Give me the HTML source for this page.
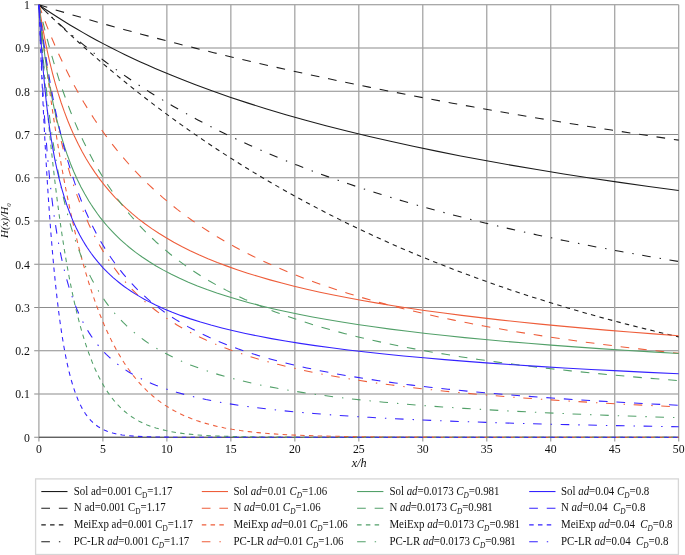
<!DOCTYPE html>
<html><head><meta charset="utf-8"><style>
html,body{margin:0;padding:0;background:#fff;}
body{width:685px;height:555px;overflow:hidden;}
svg{display:block;will-change:transform;}
text{font-family:"Liberation Serif",serif;fill:#111;}
</style></head><body>
<svg width="685" height="555" viewBox="0 0 685 555">
<rect width="685" height="555" fill="#fff"/>

<g stroke="#8c8c8c" stroke-width="1.1" fill="none"><line x1="34.2" y1="437.30" x2="678.70" y2="437.30"/><line x1="34.2" y1="394.05" x2="678.70" y2="394.05"/><line x1="34.2" y1="350.80" x2="678.70" y2="350.80"/><line x1="34.2" y1="307.55" x2="678.70" y2="307.55"/><line x1="34.2" y1="264.30" x2="678.70" y2="264.30"/><line x1="34.2" y1="221.05" x2="678.70" y2="221.05"/><line x1="34.2" y1="177.80" x2="678.70" y2="177.80"/><line x1="34.2" y1="134.55" x2="678.70" y2="134.55"/><line x1="34.2" y1="91.30" x2="678.70" y2="91.30"/><line x1="34.2" y1="48.05" x2="678.70" y2="48.05"/><line x1="34.2" y1="4.80" x2="678.70" y2="4.80"/></g>
<g stroke="#a2a2a2" stroke-width="1.25" fill="none"><line x1="38.90" y1="4.80" x2="38.90" y2="441.6"/><line x1="102.88" y1="4.80" x2="102.88" y2="441.6"/><line x1="166.86" y1="4.80" x2="166.86" y2="441.6"/><line x1="230.84" y1="4.80" x2="230.84" y2="441.6"/><line x1="294.82" y1="4.80" x2="294.82" y2="441.6"/><line x1="358.80" y1="4.80" x2="358.80" y2="441.6"/><line x1="422.78" y1="4.80" x2="422.78" y2="441.6"/><line x1="486.76" y1="4.80" x2="486.76" y2="441.6"/><line x1="550.74" y1="4.80" x2="550.74" y2="441.6"/><line x1="614.72" y1="4.80" x2="614.72" y2="441.6"/><line x1="678.70" y1="4.80" x2="678.70" y2="441.6"/></g>
<line x1="38.90" y1="437.30" x2="678.70" y2="437.30" stroke="#4a4a4a" stroke-width="1.1"/>
<g font-size="11.8"><text transform="translate(29.9,441.60) scale(1,1.08)" text-anchor="end">0</text><text transform="translate(29.9,398.35) scale(1,1.08)" text-anchor="end">0.1</text><text transform="translate(29.9,355.10) scale(1,1.08)" text-anchor="end">0.2</text><text transform="translate(29.9,311.85) scale(1,1.08)" text-anchor="end">0.3</text><text transform="translate(29.9,268.60) scale(1,1.08)" text-anchor="end">0.4</text><text transform="translate(29.9,225.35) scale(1,1.08)" text-anchor="end">0.5</text><text transform="translate(29.9,182.10) scale(1,1.08)" text-anchor="end">0.6</text><text transform="translate(29.9,138.85) scale(1,1.08)" text-anchor="end">0.7</text><text transform="translate(29.9,95.60) scale(1,1.08)" text-anchor="end">0.8</text><text transform="translate(29.9,52.35) scale(1,1.08)" text-anchor="end">0.9</text><text transform="translate(29.9,9.10) scale(1,1.08)" text-anchor="end">1</text><text transform="translate(38.90,453.3) scale(1,1.08)" text-anchor="middle">0</text><text transform="translate(102.88,453.3) scale(1,1.08)" text-anchor="middle">5</text><text transform="translate(166.86,453.3) scale(1,1.08)" text-anchor="middle">10</text><text transform="translate(230.84,453.3) scale(1,1.08)" text-anchor="middle">15</text><text transform="translate(294.82,453.3) scale(1,1.08)" text-anchor="middle">20</text><text transform="translate(358.80,453.3) scale(1,1.08)" text-anchor="middle">25</text><text transform="translate(422.78,453.3) scale(1,1.08)" text-anchor="middle">30</text><text transform="translate(486.76,453.3) scale(1,1.08)" text-anchor="middle">35</text><text transform="translate(550.74,453.3) scale(1,1.08)" text-anchor="middle">40</text><text transform="translate(614.72,453.3) scale(1,1.08)" text-anchor="middle">45</text><text transform="translate(678.70,453.3) scale(1,1.08)" text-anchor="middle">50</text></g>
<text x="359.1" y="466.5" text-anchor="middle" font-size="12.2" font-style="italic">x/h</text>
<text transform="translate(7.9,220.6) rotate(-90)" text-anchor="middle" font-size="11" font-style="italic">H(x)/H<tspan font-size="6.8" dy="3.4">0</tspan></text>
<defs><clipPath id="pc"><rect x="37.90" y="0" width="641.80" height="439.30"/></clipPath></defs><g fill="none" stroke-width="1.08" clip-path="url(#pc)" stroke-linejoin="round"><path d="M38.90,4.80 L44.91,8.93 L51.03,13.01 L57.25,17.04 L63.56,21.02 L69.97,24.95 L76.47,28.82 L83.07,32.64 L89.83,36.44 L96.64,40.17 L103.60,43.88 L110.61,47.51 L117.77,51.11 L125.04,54.67 L132.41,58.19 L139.89,61.65 L147.46,65.07 L155.19,68.46 L163.02,71.80 L170.96,75.10 L179.02,78.36 L187.21,81.59 L195.53,84.77 L212.55,91.04 L230.09,97.16 L248.13,103.13 L266.69,108.96 L285.89,114.68 L305.60,120.25 L325.95,125.71 L346.82,131.03 L368.32,136.23 L390.46,141.33 L413.12,146.28 L436.54,151.15 L460.60,155.91 L485.30,160.56 L510.77,165.12 L536.88,169.56 L563.76,173.92 L591.41,178.19 L619.70,182.36 L648.75,186.43 L678.70,190.43" stroke="#1c1c1c"/><path d="M38.90,4.80 L55.46,9.84 L72.22,14.82 L89.21,19.76 L106.36,24.62 L123.71,29.43 L141.32,34.19 L159.08,38.89 L177.10,43.54 L195.27,48.13 L213.71,52.67 L232.39,57.17 L251.21,61.59 L270.28,65.97 L289.60,70.30 L309.19,74.59 L328.90,78.81 L348.86,82.99 L369.09,87.12 L389.57,91.20 L410.30,95.24 L431.29,99.24 L452.41,103.17 L473.91,107.07 L495.54,110.91 L517.43,114.70 L539.70,118.47 L562.23,122.20 L585.01,125.88 L608.05,129.51 L631.34,133.10 L654.89,136.65 L678.70,140.15" stroke="#1c1c1c" stroke-dasharray="8.7 8.86"/><path d="M38.90,4.80 L46.85,12.57 L54.84,20.25 L62.89,27.84 L70.99,35.34 L79.13,42.74 L87.32,50.04 L95.56,57.26 L103.90,64.42 L112.25,71.46 L120.64,78.40 L129.09,85.25 L137.63,92.05 L146.18,98.72 L154.83,105.33 L163.48,111.82 L172.24,118.26 L181.07,124.63 L189.90,130.86 L198.86,137.07 L207.82,143.14 L216.90,149.18 L225.99,155.09 L235.08,160.88 L244.30,166.64 L253.64,172.35 L262.98,177.94 L272.45,183.48 L281.92,188.91 L291.52,194.29 L301.12,199.56 L310.85,204.77 L320.58,209.88 L330.43,214.94 L340.29,219.88 L350.27,224.78 L360.38,229.63 L370.50,234.36 L380.73,239.05 L390.97,243.63 L401.34,248.16 L411.84,252.63 L422.33,257.00 L432.96,261.32 L443.71,265.59 L454.59,269.80 L465.47,273.90 L476.47,277.96 L487.48,281.91 L498.62,285.81 L509.88,289.65 L521.27,293.44 L532.79,297.17 L544.31,300.81 L555.96,304.39 L567.73,307.91 L579.63,311.38 L591.67,314.79 L603.70,318.11 L615.98,321.40 L628.27,324.61 L640.69,327.76 L653.23,330.85 L665.90,333.88 L678.70,336.86" stroke="#1c1c1c" stroke-dasharray="4.5 4.27"/><path d="M38.90,4.80 L45.11,10.84 L51.40,16.80 L57.77,22.66 L64.25,28.45 L70.79,34.14 L77.44,39.76 L84.20,45.32 L91.06,50.80 L98.02,56.21 L105.03,61.51 L112.20,66.77 L119.41,71.93 L126.73,77.01 L134.20,82.06 L141.78,87.03 L149.46,91.93 L157.24,96.76 L165.12,101.52 L173.13,106.22 L181.20,110.81 L189.51,115.43 L197.83,119.91 L206.28,124.34 L214.86,128.71 L223.56,133.02 L232.39,137.27 L241.35,141.47 L250.31,145.55 L259.53,149.63 L268.87,153.65 L278.34,157.62 L287.94,161.52 L297.67,165.37 L307.52,169.16 L317.51,172.90 L327.75,176.62 L337.99,180.24 L348.48,183.85 L358.98,187.36 L369.73,190.85 L380.61,194.29 L391.74,197.71 L402.88,201.04 L414.27,204.34 L425.79,207.60 L437.44,210.79 L449.34,213.97 L461.37,217.09 L473.53,220.16 L485.94,223.21 L498.49,226.20 L511.16,229.13 L537.14,234.91 L563.89,240.53 L591.41,246.00 L619.70,251.31 L648.75,256.46 L678.70,261.49" stroke="#1c1c1c" stroke-dasharray="8.6 9.0 1.4 8.64"/><path d="M38.90,4.80 L40.92,17.49 L43.05,29.66 L45.27,41.33 L47.61,52.56 L50.07,63.36 L52.66,73.77 L55.37,83.80 L58.21,93.44 L61.19,102.73 L64.31,111.68 L67.56,120.25 L70.99,128.58 L74.58,136.60 L78.31,144.31 L82.20,151.72 L86.30,158.93 L90.60,165.92 L95.05,172.61 L99.71,179.09 L104.57,185.35 L109.64,191.40 L114.96,197.28 L120.49,202.95 L126.22,208.41 L132.21,213.70 L138.45,218.83 L144.95,223.80 L151.76,228.64 L158.82,233.31 L166.14,237.82 L173.77,242.20 L181.71,246.44 L190.15,250.66 L198.86,254.71 L207.95,258.65 L217.29,262.44 L227.02,266.12 L237.13,269.70 L247.62,273.17 L258.63,276.58 L270.02,279.88 L281.80,283.08 L294.08,286.20 L306.76,289.23 L319.94,292.17 L333.51,295.02 L347.71,297.82 L362.30,300.52 L377.41,303.15 L393.15,305.73 L409.40,308.24 L426.30,310.69 L443.71,313.07 L461.75,315.39 L480.44,317.66 L499.64,319.85 L519.61,322.01 L540.21,324.11 L561.46,326.16 L583.47,328.16 L606.13,330.11 L629.55,332.02 L653.74,333.88 L678.70,335.70" stroke="#ee5d3a"/><path d="M38.90,4.80 L42.89,15.72 L47.00,26.39 L51.21,36.78 L55.53,46.92 L59.96,56.79 L64.49,66.37 L69.15,75.74 L73.96,84.93 L78.87,93.85 L83.89,102.50 L89.06,110.97 L94.38,119.26 L99.81,127.28 L105.39,135.12 L111.12,142.77 L116.96,150.17 L123.00,157.45 L129.19,164.54 L135.54,171.44 L142.04,178.16 L148.69,184.69 L155.55,191.09 L162.56,197.30 L169.80,203.40 L177.23,209.34 L184.78,215.08 L192.59,220.71 L200.52,226.15 L208.71,231.49 L217.16,236.72 L225.74,241.77 L234.57,246.70 L243.66,251.53 L253.00,256.24 L262.60,260.84 L272.33,265.27 L282.31,269.59 L292.68,273.85 L303.17,277.95 L314.05,281.99 L325.19,285.92 L336.58,289.73 L348.35,293.48 L360.38,297.12 L372.67,300.65 L385.34,304.11 L398.40,307.49 L411.71,310.77 L425.40,313.98 L439.35,317.08 L453.82,320.13 L468.54,323.09 L483.64,325.97 L499.26,328.80 L515.13,331.53 L531.51,334.21 L548.28,336.81 L565.56,339.36 L583.22,341.84 L601.39,344.26 L619.95,346.61 L639.02,348.90 L658.61,351.14 L678.70,353.32" stroke="#ee5d3a" stroke-dasharray="8.7 8.86"/><path d="M38.90,4.80 L41.56,27.91 L44.26,50.09 L47.03,71.55 L49.84,92.19 L52.71,112.01 L55.64,131.09 L58.62,149.36 L61.66,166.89 L64.80,183.83 L67.97,199.89 L71.20,215.17 L74.52,229.91 L77.95,244.08 L81.43,257.46 L85.02,270.28 L88.65,282.34 L92.39,293.84 L96.17,304.62 L100.12,314.98 L104.16,324.77 L106.21,329.43 L108.31,334.00 L110.40,338.38 L112.55,342.67 L114.75,346.87 L116.96,350.88 L119.21,354.81 L121.51,358.64 L123.81,362.29 L126.17,365.84 L128.57,369.30 L131.03,372.66 L133.49,375.86 L136.00,378.96 L138.56,381.96 L141.17,384.86 L143.83,387.66 L146.54,390.36 L149.30,392.96 L152.12,395.47 L154.99,397.87 L157.90,400.17 L160.87,402.38 L163.94,404.52 L169.04,407.79 L174.28,410.82 L179.66,413.60 L185.29,416.20 L191.18,418.61 L197.32,420.84 L203.72,422.87 L210.38,424.72 L217.29,426.40 L224.58,427.92 L232.26,429.29 L240.46,430.54 L249.03,431.64 L258.25,432.62 L267.97,433.47 L278.47,434.21 L287.94,434.76 L298.18,435.25 L309.19,435.66 L320.96,436.02 L347.84,436.56 L380.86,436.93 L418.36,437.13 L468.92,437.24 L678.70,437.30" stroke="#ee5d3a" stroke-dasharray="4.5 4.27"/><path d="M38.90,4.80 L40.96,22.43 L43.10,39.27 L45.32,55.41 L47.65,70.95 L50.07,85.81 L52.60,100.13 L55.24,113.85 L57.98,126.96 L60.85,139.59 L63.83,151.68 L66.95,163.34 L70.17,174.42 L73.55,185.10 L77.08,195.38 L80.72,205.12 L84.56,214.59 L88.55,223.65 L92.69,232.31 L94.84,236.53 L97.05,240.67 L99.30,244.74 L101.55,248.64 L103.90,252.56 L106.26,256.31 L108.66,260.00 L111.12,263.61 L113.63,267.14 L116.24,270.67 L118.85,274.06 L121.56,277.44 L124.27,280.68 L127.09,283.90 L129.96,287.05 L132.87,290.13 L135.84,293.14 L138.91,296.12 L142.04,299.03 L145.21,301.86 L148.43,304.62 L151.76,307.36 L155.14,310.03 L158.57,312.62 L162.10,315.19 L165.68,317.68 L169.42,320.18 L173.13,322.56 L176.97,324.92 L180.81,327.19 L184.78,329.44 L188.87,331.66 L193.10,333.86 L197.32,335.98 L206.03,340.07 L215.11,344.00 L224.71,347.82 L234.57,351.43 L244.94,354.93 L255.69,358.27 L266.95,361.49 L278.73,364.59 L290.88,367.53 L303.56,370.35 L316.87,373.08 L330.69,375.69 L345.02,378.18 L360.00,380.58 L375.61,382.88 L391.87,385.08 L408.89,387.20 L426.68,389.25 L445.11,391.20 L464.31,393.06 L484.41,394.86 L505.40,396.59 L527.16,398.24 L549.81,399.82 L573.49,401.35 L598.19,402.81 L623.92,404.21 L650.80,405.56 L678.70,406.84" stroke="#ee5d3a" stroke-dasharray="8.6 9.0 1.4 8.64"/><path d="M38.90,4.80 L40.42,19.78 L42.05,34.15 L43.76,47.79 L45.58,60.82 L47.50,73.23 L49.53,85.12 L51.68,96.47 L53.96,107.36 L56.37,117.78 L58.90,127.74 L61.57,137.28 L64.40,146.44 L67.41,155.30 L70.53,163.68 L73.81,171.69 L77.29,179.45 L80.97,186.95 L84.81,194.09 L88.86,200.96 L90.95,204.30 L93.16,207.65 L97.61,213.99 L99.91,217.06 L102.32,220.13 L104.72,223.07 L107.23,226.01 L109.79,228.88 L112.40,231.68 L115.06,234.42 L117.83,237.15 L120.64,239.81 L123.51,242.41 L126.42,244.95 L129.44,247.47 L135.64,252.33 L142.14,257.03 L148.95,261.56 L156.06,265.93 L163.48,270.14 L171.34,274.26 L179.66,278.28 L188.36,282.16 L197.45,285.91 L206.92,289.52 L216.78,292.99 L227.02,296.33 L237.77,299.58 L249.03,302.74 L260.68,305.77 L272.84,308.70 L285.51,311.54 L298.69,314.28 L312.51,316.96 L326.85,319.54 L341.83,322.05 L357.44,324.49 L373.57,326.83 L390.33,329.11 L407.87,331.33 L426.04,333.47 L444.99,335.57 L464.70,337.60 L485.05,339.56 L506.17,341.47 L528.18,343.33 L551.09,345.14 L574.77,346.90 L599.34,348.61 L624.82,350.28 L651.31,351.91 L678.70,353.49" stroke="#52a069"/><path d="M38.90,4.80 L42.01,18.30 L45.22,31.39 L48.54,44.06 L51.96,56.37 L55.50,68.27 L59.14,79.79 L62.91,90.96 L66.80,101.79 L70.79,112.22 L74.93,122.39 L79.23,132.28 L83.63,141.79 L88.19,151.02 L92.90,159.98 L97.76,168.66 L102.78,177.06 L107.95,185.19 L113.27,193.04 L118.80,200.70 L124.48,208.08 L130.37,215.26 L136.41,222.17 L142.70,228.93 L149.15,235.43 L155.80,241.73 L162.66,247.82 L169.80,253.77 L177.10,259.47 L184.78,265.10 L192.59,270.48 L200.65,275.69 L208.97,280.73 L217.54,285.61 L226.50,290.39 L235.59,294.95 L245.06,299.40 L254.79,303.70 L264.90,307.89 L275.27,311.92 L286.02,315.84 L297.16,319.65 L308.55,323.31 L320.45,326.90 L332.61,330.34 L345.15,333.67 L358.21,336.93 L371.65,340.07 L385.47,343.10 L399.81,346.05 L414.52,348.90 L429.76,351.66 L445.50,354.34 L461.75,356.94 L478.52,359.45 L495.80,361.88 L513.59,364.23 L532.02,366.51 L550.96,368.72 L570.67,370.87 L590.90,372.94 L611.76,374.95 L633.39,376.90 L655.66,378.78 L678.70,380.62" stroke="#52a069" stroke-dasharray="8.7 8.86"/><path d="M38.90,4.80 L40.76,30.35 L42.65,54.88 L44.58,78.38 L46.55,100.86 L48.57,122.46 L50.63,143.05 L52.75,162.75 L54.91,181.56 L57.12,199.48 L59.39,216.52 L61.72,232.77 L64.10,248.14 L66.54,262.72 L69.05,276.52 L71.66,289.72 L74.32,302.06 L77.03,313.58 L79.85,324.50 L82.71,334.63 L85.68,344.16 L88.75,353.09 L91.93,361.42 L93.56,365.40 L95.20,369.16 L96.89,372.83 L98.63,376.41 L100.37,379.79 L102.16,383.08 L104.01,386.26 L105.85,389.25 L107.74,392.15 L109.69,394.94 L111.68,397.63 L113.68,400.14 L115.78,402.62 L117.88,404.93 L120.03,407.13 L122.23,409.23 L124.48,411.23 L126.83,413.17 L129.19,414.97 L131.65,416.70 L135.28,419.01 L139.07,421.15 L143.01,423.11 L147.10,424.90 L151.40,426.53 L155.91,428.01 L160.67,429.35 L165.68,430.56 L170.96,431.63 L176.46,432.57 L182.35,433.40 L188.75,434.14 L195.53,434.77 L202.83,435.31 L210.89,435.77 L219.59,436.15 L234.44,436.59 L252.10,436.90 L273.86,437.11 L302.28,437.22 L378.81,437.29 L678.70,437.30" stroke="#52a069" stroke-dasharray="4.5 4.27"/><path d="M38.90,4.80 L40.41,25.22 L41.98,44.55 L43.65,63.11 L45.39,80.73 L47.22,97.55 L49.14,113.57 L51.16,128.89 L53.27,143.41 L55.48,157.24 L57.81,170.45 L60.26,183.03 L62.83,195.06 L65.52,206.46 L68.33,217.31 L71.30,227.70 L74.42,237.62 L77.70,247.06 L81.13,256.03 L84.71,264.55 L86.60,268.73 L88.50,272.72 L90.44,276.62 L92.44,280.44 L94.49,284.17 L96.58,287.82 L98.73,291.38 L100.94,294.85 L103.19,298.24 L105.54,301.61 L107.90,304.82 L110.35,308.01 L112.81,311.06 L115.37,314.08 L117.98,317.01 L120.64,319.87 L123.40,322.69 L126.22,325.43 L129.09,328.09 L132.05,330.71 L135.07,333.25 L138.20,335.76 L141.37,338.18 L144.59,340.53 L147.92,342.83 L151.35,345.10 L154.83,347.29 L158.41,349.44 L162.10,351.55 L165.84,353.59 L169.68,355.58 L173.64,357.54 L177.74,359.47 L181.84,361.31 L190.41,364.89 L199.37,368.29 L208.84,371.55 L218.70,374.63 L229.06,377.58 L240.07,380.41 L251.46,383.08 L263.49,385.64 L276.17,388.08 L289.35,390.39 L303.30,392.61 L317.89,394.72 L333.25,396.73 L349.38,398.65 L366.27,400.48 L383.93,402.21 L402.49,403.86 L421.95,405.43 L442.43,406.94 L463.93,408.37 L486.46,409.73 L510.13,411.04 L534.96,412.27 L560.95,413.45 L588.34,414.58 L617.01,415.65 L647.09,416.67 L678.70,417.64" stroke="#52a069" stroke-dasharray="8.6 9.0 1.4 8.64"/><path d="M38.90,4.80 L39.91,23.28 L40.99,40.51 L42.15,56.91 L43.39,72.31 L44.72,86.88 L46.16,100.74 L47.68,113.76 L49.32,126.19 L51.07,137.99 L52.94,149.16 L54.93,159.78 L57.06,169.86 L59.32,179.45 L61.73,188.55 L64.29,197.22 L67.00,205.45 L69.92,213.39 L72.99,220.89 L76.26,228.08 L78.00,231.61 L79.74,234.96 L81.54,238.23 L83.43,241.52 L85.32,244.64 L87.32,247.76 L89.37,250.80 L91.47,253.76 L93.62,256.65 L95.82,259.45 L98.07,262.19 L100.42,264.91 L102.83,267.55 L105.29,270.12 L107.84,272.67 L110.46,275.15 L113.12,277.55 L115.88,279.93 L118.70,282.24 L121.56,284.48 L124.53,286.70 L127.60,288.88 L130.72,291.00 L133.95,293.09 L137.28,295.15 L140.65,297.14 L144.24,299.16 L147.92,301.14 L151.71,303.08 L155.60,304.98 L163.69,308.67 L172.24,312.23 L181.20,315.63 L190.54,318.87 L200.52,322.03 L210.89,325.04 L221.90,327.97 L233.42,330.78 L245.45,333.47 L258.12,336.08 L271.43,338.60 L285.38,341.03 L299.97,343.37 L315.20,345.63 L331.33,347.83 L348.10,349.95 L365.76,352.02 L384.19,354.01 L403.52,355.95 L423.61,357.82 L444.60,359.63 L466.49,361.39 L489.40,363.10 L513.21,364.75 L538.04,366.35 L564.02,367.92 L591.03,369.44 L619.06,370.91 L648.24,372.35 L678.70,373.74" stroke="#3422ff"/><path d="M38.90,4.80 L41.02,22.03 L43.24,38.59 L45.54,54.47 L47.95,69.76 L50.44,84.38 L53.05,98.48 L55.77,111.99 L58.58,124.91 L61.52,137.37 L64.59,149.35 L67.77,160.77 L71.09,171.80 L74.58,182.44 L78.16,192.53 L81.89,202.25 L85.84,211.69 L89.93,220.73 L94.18,229.37 L98.58,237.62 L100.88,241.69 L103.19,245.59 L105.59,249.50 L108.00,253.26 L110.46,256.94 L112.96,260.55 L115.52,264.09 L118.13,267.56 L120.79,270.95 L123.56,274.34 L126.32,277.59 L129.19,280.82 L132.11,283.99 L135.07,287.07 L138.09,290.09 L141.22,293.09 L144.34,295.96 L147.56,298.81 L150.84,301.59 L154.22,304.35 L157.65,307.03 L161.13,309.64 L164.66,312.19 L168.27,314.69 L171.98,317.16 L175.82,319.61 L179.66,321.97 L183.63,324.30 L187.72,326.62 L191.82,328.84 L200.27,333.15 L209.10,337.30 L218.31,341.30 L227.78,345.09 L237.77,348.77 L248.13,352.29 L258.89,355.66 L270.15,358.92 L281.92,362.06 L294.08,365.04 L306.76,367.91 L320.07,370.69 L333.89,373.35 L348.22,375.89 L363.20,378.34 L378.81,380.70 L395.07,382.96 L411.96,385.12 L429.63,387.21 L447.93,389.20 L467.00,391.11 L486.84,392.95 L507.57,394.72 L529.08,396.41 L551.60,398.04 L575.03,399.61 L599.47,401.11 L624.82,402.55 L651.18,403.93 L678.70,405.26" stroke="#3422ff" stroke-dasharray="8.7 8.86"/><path d="M38.90,4.80 L41.10,60.40 L42.24,86.30 L43.40,110.95 L44.59,134.35 L45.82,156.74 L47.09,178.10 L48.38,198.22 L49.71,217.31 L51.07,235.20 L52.48,252.22 L53.92,268.22 L55.42,283.33 L56.96,297.42 L58.54,310.63 L60.19,323.05 L61.87,334.42 L63.60,344.95 L65.41,354.87 L67.26,363.84 L69.20,372.25 L71.20,379.88 L73.30,386.94 L75.50,393.41 L77.80,399.30 L78.98,402.00 L80.21,404.61 L81.49,407.12 L82.76,409.44 L84.10,411.66 L85.43,413.71 L86.81,415.66 L88.24,417.52 L89.73,419.27 L91.26,420.92 L92.85,422.47 L94.49,423.91 L96.17,425.25 L97.92,426.50 L100.06,427.85 L102.37,429.12 L104.72,430.24 L107.23,431.26 L109.89,432.19 L112.66,433.00 L115.62,433.73 L118.80,434.37 L122.13,434.92 L125.71,435.40 L129.55,435.80 L133.74,436.15 L143.37,436.67 L155.39,437.00 L175.82,437.22 L211.15,437.29 L678.70,437.30" stroke="#3422ff" stroke-dasharray="4.5 4.27"/><path d="M38.90,4.80 L39.86,29.28 L40.87,52.24 L41.95,73.98 L43.07,94.26 L44.27,113.57 L45.55,131.86 L46.91,149.12 L48.34,165.36 L49.87,180.71 L51.48,195.19 L53.19,208.90 L55.00,221.74 L56.92,233.90 L58.95,245.38 L61.10,256.19 L63.38,266.38 L65.82,276.11 L68.38,285.18 L71.09,293.75 L73.96,301.81 L75.45,305.63 L76.98,309.37 L78.57,313.02 L80.21,316.57 L81.89,320.03 L83.63,323.39 L85.43,326.65 L87.27,329.82 L89.16,332.89 L91.11,335.87 L93.10,338.75 L95.20,341.61 L97.30,344.31 L99.50,346.99 L101.75,349.56 L104.11,352.11 L106.51,354.56 L108.97,356.92 L111.48,359.20 L114.09,361.43 L116.75,363.59 L119.51,365.69 L122.38,367.76 L125.30,369.74 L128.32,371.67 L131.39,373.53 L134.61,375.37 L137.89,377.14 L141.27,378.85 L144.75,380.52 L148.33,382.15 L152.07,383.74 L155.86,385.27 L159.80,386.76 L168.01,389.63 L176.59,392.29 L185.80,394.83 L195.53,397.23 L205.90,399.50 L216.78,401.62 L228.42,403.64 L240.71,405.54 L253.64,407.32 L267.46,409.01 L282.05,410.61 L297.54,412.11 L313.92,413.53 L331.33,414.87 L349.76,416.14 L369.22,417.32 L389.95,418.45 L411.84,419.51 L435.13,420.52 L459.83,421.47 L485.94,422.36 L513.59,423.20 L542.90,424.00 L574.00,424.75 L606.90,425.45 L678.70,426.75" stroke="#3422ff" stroke-dasharray="8.6 9.0 1.4 8.64"/></g>
<rect x="35.6" y="478.9" width="642.8" height="75.6" fill="none" stroke="#d6d6d6" stroke-width="1.3"/><line x1="41.3" y1="491.55" x2="67.5" y2="491.55" stroke="#1c1c1c" stroke-width="1.08"/><text transform="translate(73.8,494.65) scale(1,1.1)" font-size="10.9">Sol ad=0.001 C<tspan font-size="7.3" dy="2.7">D</tspan><tspan dy="-2.7">=1.17</tspan></text><line x1="41.3" y1="508.3" x2="67.5" y2="508.3" stroke="#1c1c1c" stroke-width="1.08" stroke-dasharray="8.7 8.86"/><text transform="translate(73.8,511.40) scale(1,1.1)" font-size="10.9">N ad=0.001 C<tspan font-size="7.3" dy="2.7">D</tspan><tspan dy="-2.7">=1.17</tspan></text><line x1="41.3" y1="524.85" x2="67.5" y2="524.85" stroke="#1c1c1c" stroke-width="1.08" stroke-dasharray="4.5 4.27"/><text transform="translate(73.8,527.95) scale(1,1.1)" font-size="10.9">MeiExp ad=0.001 C<tspan font-size="7.3" dy="2.7">D</tspan><tspan dy="-2.7">=1.17</tspan></text><line x1="41.3" y1="541.75" x2="67.5" y2="541.75" stroke="#1c1c1c" stroke-width="1.08" stroke-dasharray="8.6 9.0 1.4 8.64"/><text transform="translate(73.8,544.85) scale(1,1.1)" font-size="10.9">PC-LR <tspan font-style="italic">ad</tspan>=0.001 <tspan font-style="italic">C</tspan><tspan font-style="italic" font-size="7.3" dy="2.7">D</tspan><tspan dy="-2.7">=1.17</tspan></text><line x1="201.8" y1="491.55" x2="228" y2="491.55" stroke="#ee5d3a" stroke-width="1.08"/><text transform="translate(233.5,494.65) scale(1,1.1)" font-size="10.9">Sol <tspan font-style="italic">ad</tspan>=0.01 <tspan font-style="italic">C</tspan><tspan font-style="italic" font-size="7.3" dy="2.7">D</tspan><tspan dy="-2.7">=1.06</tspan></text><line x1="201.8" y1="508.3" x2="228" y2="508.3" stroke="#ee5d3a" stroke-width="1.08" stroke-dasharray="8.7 8.86"/><text transform="translate(233.5,511.40) scale(1,1.1)" font-size="10.9">N <tspan font-style="italic">ad</tspan>=0.01 <tspan font-style="italic">C</tspan><tspan font-style="italic" font-size="7.3" dy="2.7">D</tspan><tspan dy="-2.7">=1.06</tspan></text><line x1="201.8" y1="524.85" x2="228" y2="524.85" stroke="#ee5d3a" stroke-width="1.08" stroke-dasharray="4.5 4.27"/><text transform="translate(233.5,527.95) scale(1,1.1)" font-size="10.9">MeiExp <tspan font-style="italic">ad</tspan>=0.01 <tspan font-style="italic">C</tspan><tspan font-style="italic" font-size="7.3" dy="2.7">D</tspan><tspan dy="-2.7">=1.06</tspan></text><line x1="201.8" y1="541.75" x2="228" y2="541.75" stroke="#ee5d3a" stroke-width="1.08" stroke-dasharray="8.6 9.0 1.4 8.64"/><text transform="translate(233.5,544.85) scale(1,1.1)" font-size="10.9">PC-LR <tspan font-style="italic">ad</tspan>=0.01 <tspan font-style="italic">C</tspan><tspan font-style="italic" font-size="7.3" dy="2.7">D</tspan><tspan dy="-2.7">=1.06</tspan></text><line x1="357.1" y1="491.55" x2="383.4" y2="491.55" stroke="#52a069" stroke-width="1.08"/><text transform="translate(389.4,494.65) scale(1,1.1)" font-size="10.9">Sol <tspan font-style="italic">ad</tspan>=0.0173 <tspan font-style="italic">C</tspan><tspan font-style="italic" font-size="7.3" dy="2.7">D</tspan><tspan dy="-2.7">=0.981</tspan></text><line x1="357.1" y1="508.3" x2="383.4" y2="508.3" stroke="#52a069" stroke-width="1.08" stroke-dasharray="8.7 8.86"/><text transform="translate(389.4,511.40) scale(1,1.1)" font-size="10.9">N <tspan font-style="italic">ad</tspan>=0.0173 <tspan font-style="italic">C</tspan><tspan font-style="italic" font-size="7.3" dy="2.7">D</tspan><tspan dy="-2.7">=0.981</tspan></text><line x1="357.1" y1="524.85" x2="383.4" y2="524.85" stroke="#52a069" stroke-width="1.08" stroke-dasharray="4.5 4.27"/><text transform="translate(389.4,527.95) scale(1,1.1)" font-size="10.9">MeiExp <tspan font-style="italic">ad</tspan>=0.0173 <tspan font-style="italic">C</tspan><tspan font-style="italic" font-size="7.3" dy="2.7">D</tspan><tspan dy="-2.7">=0.981</tspan></text><line x1="357.1" y1="541.75" x2="383.4" y2="541.75" stroke="#52a069" stroke-width="1.08" stroke-dasharray="8.6 9.0 1.4 8.64"/><text transform="translate(389.4,544.85) scale(1,1.1)" font-size="10.9">PC-LR <tspan font-style="italic">ad</tspan>=0.0173 <tspan font-style="italic">C</tspan><tspan font-style="italic" font-size="7.3" dy="2.7">D</tspan><tspan dy="-2.7">=0.981</tspan></text><line x1="529.2" y1="491.55" x2="555.5" y2="491.55" stroke="#3422ff" stroke-width="1.08"/><text transform="translate(561,494.65) scale(1,1.1)" font-size="10.9">Sol <tspan font-style="italic">ad</tspan>=0.04 <tspan font-style="italic">C</tspan><tspan font-style="italic" font-size="7.3" dy="2.7">D</tspan><tspan dy="-2.7">=0.8</tspan></text><line x1="529.2" y1="508.3" x2="555.5" y2="508.3" stroke="#3422ff" stroke-width="1.08" stroke-dasharray="8.7 8.86"/><text transform="translate(561,511.40) scale(1,1.1)" font-size="10.9">N <tspan font-style="italic">ad</tspan>=0.04 &#160;<tspan font-style="italic">C</tspan><tspan font-style="italic" font-size="7.3" dy="2.7">D</tspan><tspan dy="-2.7">=0.8</tspan></text><line x1="529.2" y1="524.85" x2="555.5" y2="524.85" stroke="#3422ff" stroke-width="1.08" stroke-dasharray="4.5 4.27"/><text transform="translate(561,527.95) scale(1,1.1)" font-size="10.9">MeiExp <tspan font-style="italic">ad</tspan>=0.04 &#160;<tspan font-style="italic">C</tspan><tspan font-style="italic" font-size="7.3" dy="2.7">D</tspan><tspan dy="-2.7">=0.8</tspan></text><line x1="529.2" y1="541.75" x2="555.5" y2="541.75" stroke="#3422ff" stroke-width="1.08" stroke-dasharray="8.6 9.0 1.4 8.64"/><text transform="translate(561,544.85) scale(1,1.1)" font-size="10.9">PC-LR <tspan font-style="italic">ad</tspan>=0.04 &#160;<tspan font-style="italic">C</tspan><tspan font-style="italic" font-size="7.3" dy="2.7">D</tspan><tspan dy="-2.7">=0.8</tspan></text>
</svg>
</body></html>
